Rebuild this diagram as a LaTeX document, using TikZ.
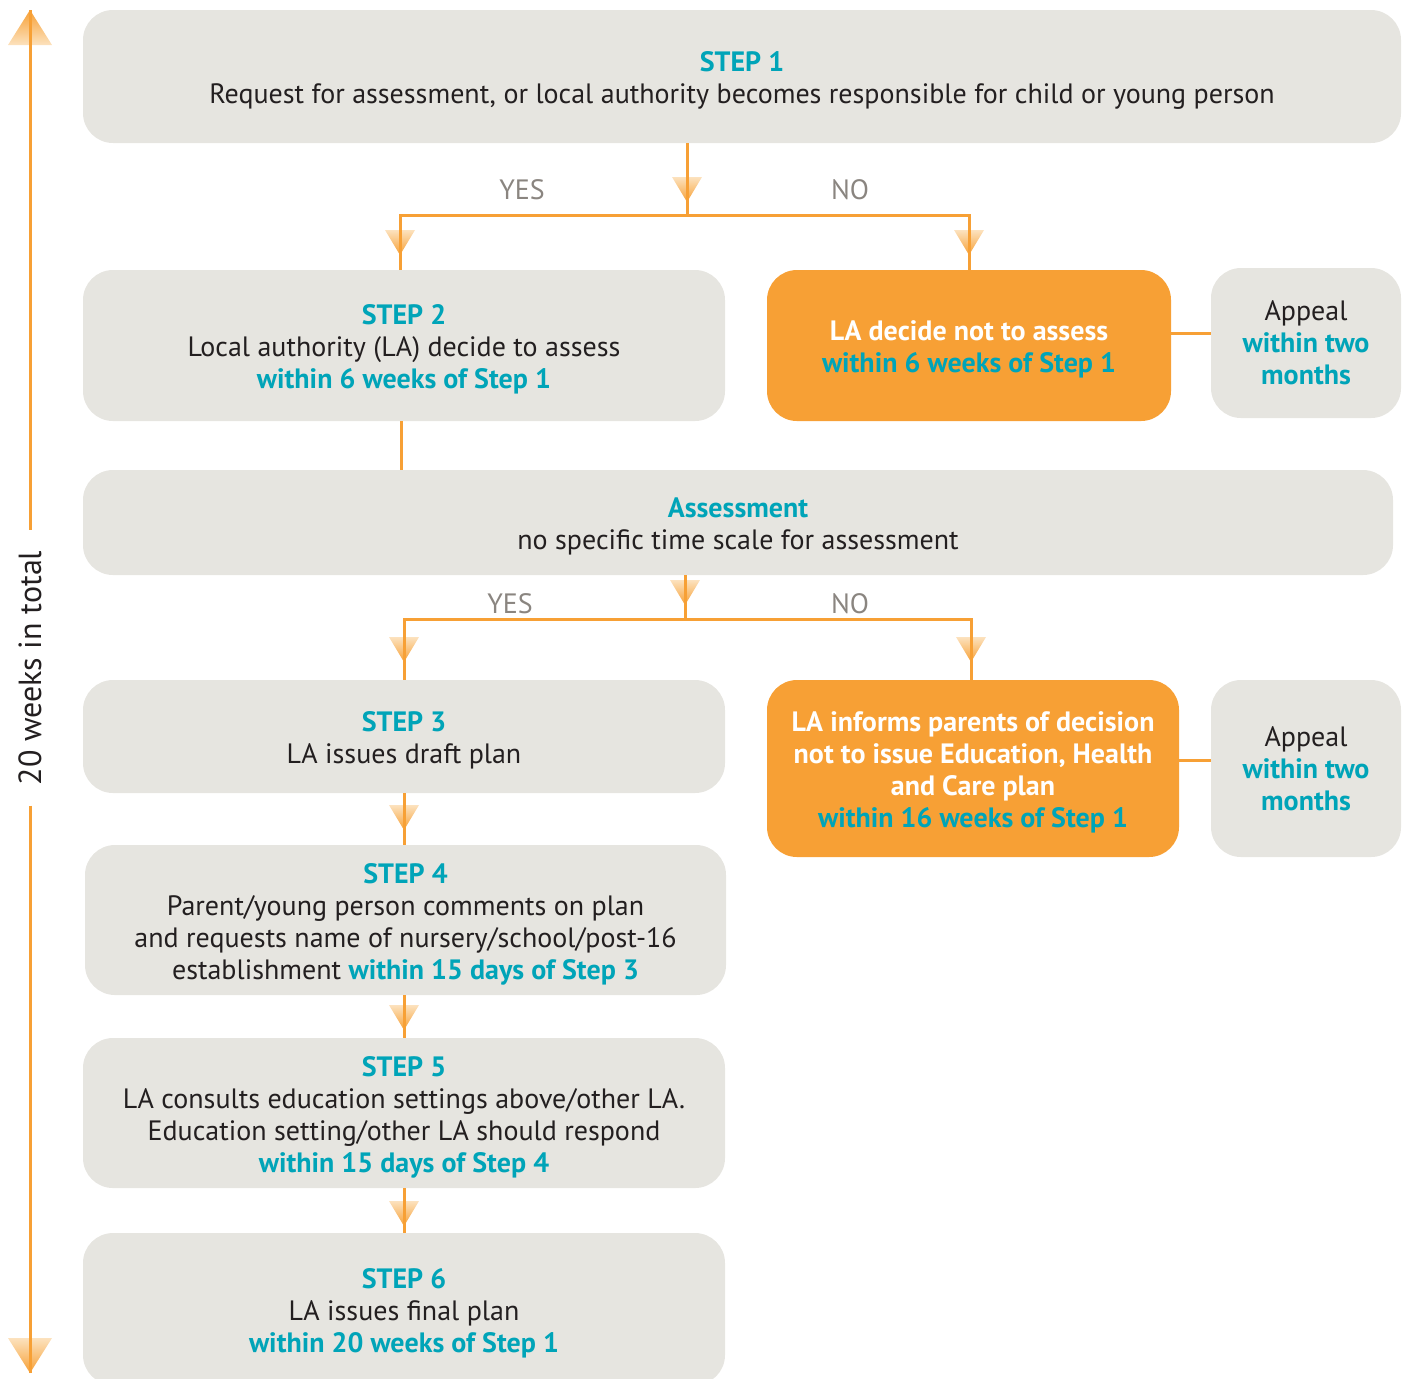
\documentclass[tikz,border=0pt]{standalone}
\usepackage{fontspec}
\setmainfont{PT Sans}
\usetikzlibrary{calc,positioning}

\definecolor{boxgray}{RGB}{230,229,224}
\definecolor{flowteal}{RGB}{0,164,184}
\definecolor{floworange}{RGB}{247,160,53}
\definecolor{headlight}{RGB}{252,226,190}
\definecolor{labelgray}{RGB}{138,133,128}
\definecolor{inkdark}{RGB}{35,31,32}

\newcommand{\due}[1]{\textcolor{flowteal}{\bfseries #1}}
\newcommand{\topgap}{\rule{0pt}{14pt}}

\begin{document}
\begin{tikzpicture}[%
    x=0.5pt,
    y=-0.5pt,
    every node/.style={font=\fontsize{14}{16}\selectfont, text=inkdark},
    stepbox/.style={fill=boxgray, rounded corners=15pt, align=center, inner sep=0pt},
    nobox/.style={fill=floworange, rounded corners=15pt, align=center, inner sep=0pt,
      text=white, font=\fontsize{14}{16}\selectfont\bfseries},
    answer/.style={text=labelgray},
    flowline/.style={floworange, line width=1.5pt},
    flowhead/.pic={\shade[top color=headlight, bottom color=floworange]
      (-7.5pt,12.5pt) -- (7.5pt,12.5pt) -- (0,0) -- cycle;},
    uphead/.pic={\shade[top color=floworange, bottom color=headlight]
      (-11pt,-17.5pt) -- (11pt,-17.5pt) -- (0,0) -- cycle;},
    downhead/.pic={\shade[top color=headlight, bottom color=floworange]
      (-11pt,17.5pt) -- (11pt,17.5pt) -- (0,0) -- cycle;}
  ]
  \useasboundingbox (0,0) rectangle (1406,1378);

  % boxes
  \node[stepbox, minimum width=659pt, minimum height=66.5pt] (s1) at (742,76.5)
    {\topgap\due{STEP 1}\\ Request for assessment, or local authority becomes responsible for child or young person};
  \node[stepbox, minimum width=321pt, minimum height=75.5pt] (s2) at (404,345.5)
    {\topgap\due{STEP 2}\\ Local authority (LA) decide to assess\\ \due{within 6 weeks of Step 1}};
  \node[nobox, minimum width=202pt, minimum height=75.5pt] (no1) at (969,345.5)
    {\topgap LA decide not to assess\\ \due{within 6 weeks of Step 1}};
  \node[stepbox, minimum width=95pt, minimum height=75pt] (ap1) at (1306,343)
    {Appeal\\ \due{within two}\\ \due{months}};
  \node[stepbox, minimum width=655pt, minimum height=52.5pt] (as) at (738,522.5)
    {\topgap\due{Assessment}\\ no specific time scale for assessment};
  \node[stepbox, minimum width=321pt, minimum height=56.5pt] (s3) at (404,736.5)
    {\topgap\due{STEP 3}\\ LA issues draft plan};
  \node[nobox, minimum width=206pt, minimum height=88.5pt] (no2) at (973,768.5)
    {\topgap LA informs parents of decision\\ not to issue Education, Health\\ and Care plan\\ \due{within 16 weeks of Step 1}};
  \node[stepbox, minimum width=95pt, minimum height=88.5pt] (ap2) at (1306,768.5)
    {Appeal\\ \due{within two}\\ \due{months}};
  \node[stepbox, minimum width=320.5pt, minimum height=75pt] (s4) at (405.5,920)
    {\topgap\due{STEP 4}\\ Parent/young person comments on plan\\ and requests name of nursery/school/post-16\\
     establishment \due{within 15 days of Step 3}};
  \node[stepbox, minimum width=321pt, minimum height=75pt] (s5) at (404,1113)
    {\topgap\due{STEP 5}\\ LA consults education settings above/other LA.\\ Education setting/other LA should respond\\
     \due{within 15 days of Step 4}};
  \node[stepbox, minimum width=321pt, minimum height=76pt] (s6) at (404,1309)
    {\topgap\due{STEP 6}\\ LA issues final plan\\ \due{within 20 weeks of Step 1}};

  \node[answer] (yes1) at (522,190) {YES};
  \node[answer] (no1lab) at (850,190) {NO};
  \node[answer] (yes2) at (510,604) {YES};
  \node[answer] (no2lab) at (850,604) {NO};

  % arrow heads
  \pic at (687,202) {flowhead};
  \pic at (400,255) {flowhead};
  \pic at (969,255) {flowhead};
  \pic at (685,605) {flowhead};
  \pic at (404,662) {flowhead};
  \pic at (971,662) {flowhead};
  \pic at (404,830) {flowhead};
  \pic at (404,1030) {flowhead};
  \pic at (404,1226) {flowhead};

  % connectors
  \coordinate (j1) at (687,215);
  \coordinate (j2) at (685,619);
  \draw[flowline] (j1 |- s1.south) -- (j1);
  \draw[flowline] (j1) -| ([xshift=-2pt]s2.north);
  \draw[flowline] (j1) -| (no1.north);
  \draw[flowline] ([xshift=-1.5pt]s2.south) -- ([xshift=-1.5pt]s2.south |- as.north);
  \draw[flowline] (j2 |- as.south) -- (j2);
  \draw[flowline] (j2) -| (s3.north);
  \draw[flowline] (j2) -| ([xshift=-1pt]no2.north);
  \draw[flowline] (s3.south) -- (s3.south |- s4.north);
  \draw[flowline] (s4.south -| s3.south) -- (s5.north);
  \draw[flowline] (s5.south) -- (s6.north);
  \draw[flowline] ([yshift=6pt]no1.east) -- ([yshift=6pt]no1.east -| ap1.west);
  \draw[flowline] ([yshift=4pt]no2.east) -- ([yshift=4pt]no2.east -| ap2.west);

  % time line
  \coordinate (wtop) at (30,10);
  \coordinate (wbot) at (30,1373);
  \node[rotate=90, inner xsep=10pt, font=\fontsize{16}{18}\selectfont] (weeks) at (30,668) {20 weeks in total};
  \pic at (wtop) {uphead};
  \pic at (wbot) {downhead};
  \draw[flowline] (wtop) -- (weeks.east);
  \draw[flowline] (weeks.west) -- (wbot);
\end{tikzpicture}
\end{document}
